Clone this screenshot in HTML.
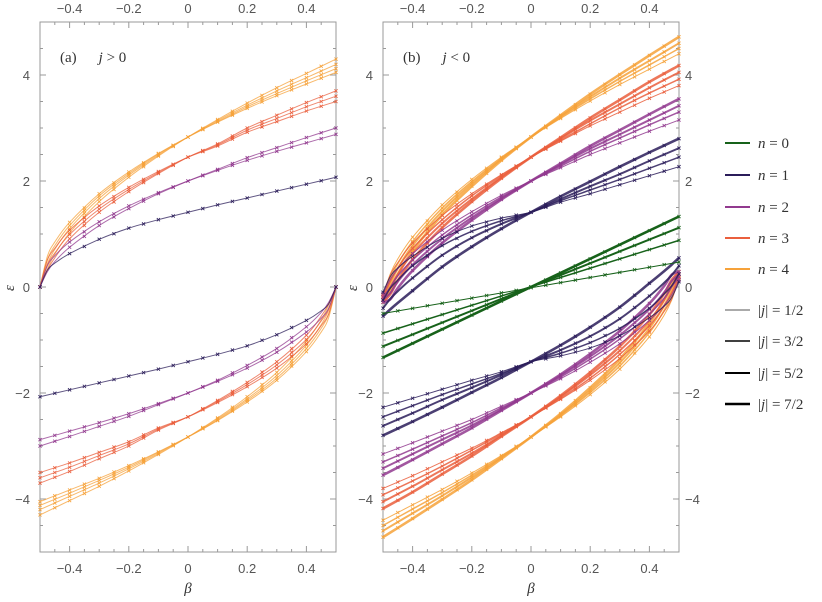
<!DOCTYPE html>
<html><head><meta charset="utf-8"><style>
body{margin:0;background:#fff;}
svg{display:block;}
.tk{font-family:"Liberation Sans",sans-serif;font-size:13px;fill:#555;}
.lt{font-family:"Liberation Serif",serif;font-size:15px;fill:#333;}
</style></head><body>
<svg id="chart" width="822" height="602" viewBox="0 0 822 602"></svg>
<script>
// beta sample grid
const betaGrid=[-0.5,-0.475,-0.45,-0.4,-0.3,-0.2,-0.1,0,0.1,0.2,0.3,0.4,0.5];
// panel (a) j>0 upper branch values per n and j
const a_n1_j1=[0,.32,.45,.63,.9,1.11,1.27,1.41,1.55,1.68,1.81,1.94,2.07];
const a_n2_j1=[0,.40,.59,.85,1.23,1.53,1.78,2.0,2.20,2.39,2.56,2.72,2.88];
const a_n2_j3=[0,.29,.48,.75,1.16,1.48,1.76,2.0,2.22,2.44,2.63,2.82,3.0];
const a_n3_j1=[0,.51,.73,1.07,1.53,1.88,2.18,2.45,2.66,2.92,3.12,3.32,3.50];
const a_n3_j3=[0,.42,.64,.99,1.47,1.84,2.16,2.45,2.68,2.96,3.18,3.40,3.60];
const a_n3_j5=[0,.32,.55,.91,1.41,1.80,2.14,2.45,2.70,3.00,3.24,3.48,3.70];
const a_n4_j1=[0,.58,.85,1.22,1.76,2.17,2.52,2.83,3.11,3.37,3.61,3.83,4.05];
const a_n4_j3=[0,.52,.78,1.16,1.72,2.14,2.51,2.83,3.12,3.40,3.65,3.89,4.12];
const a_n4_j5=[0,.44,.71,1.10,1.67,2.11,2.49,2.83,3.14,3.43,3.70,3.95,4.20];
const a_n4_j7=[0,.34,.62,1.02,1.61,2.07,2.47,2.83,3.16,3.47,3.76,4.03,4.30];
// panel (b) j<0 upper branch values
const b_n1_j1=[-.10,.20,.36,.58,.92,1.15,1.30,1.41,1.60,1.76,1.93,2.10,2.27];
const b_n1_j3=[-.25,-.02,.13,.40,.78,1.05,1.25,1.41,1.63,1.83,2.03,2.24,2.45];
const b_n1_j5=[-.40,-.22,-.08,.17,.60,.93,1.19,1.41,1.66,1.90,2.13,2.38,2.62];
const b_n1_j7=[-.55,-.42,-.30,-.07,.38,.76,1.10,1.41,1.71,1.99,2.27,2.54,2.80];
const b_n2_j1=[-.13,.15,.34,.63,1.07,1.42,1.73,2.0,2.25,2.50,2.72,2.94,3.15];
const b_n2_j3=[-.19,.0,.21,.51,.98,1.36,1.70,2.0,2.28,2.56,2.81,3.06,3.30];
const b_n2_j5=[-.24,-.11,.10,.42,.91,1.31,1.67,2.0,2.31,2.61,2.88,3.15,3.42];
const b_n2_j7=[-.29,-.23,-.02,.31,.83,1.26,1.65,2.0,2.33,2.66,2.96,3.26,3.55];
const b_n3_j1=[-.14,.23,.46,.83,1.35,1.76,2.12,2.45,2.75,3.04,3.30,3.56,3.80];
const b_n3_j3=[-.18,.11,.36,.73,1.27,1.72,2.10,2.45,2.77,3.08,3.38,3.66,3.92];
const b_n3_j5=[-.24,-.01,.24,.63,1.20,1.66,2.07,2.45,2.80,3.14,3.45,3.76,4.05];
const b_n3_j7=[-.29,-.13,.12,.52,1.12,1.61,2.05,2.45,2.82,3.19,3.53,3.87,4.18];
const b_n4_j1=[-.16,.25,.53,.94,1.55,2.03,2.45,2.83,3.18,3.51,3.82,4.11,4.40];
const b_n4_j3=[-.2,.16,.44,.86,1.49,1.99,2.43,2.83,3.20,3.55,3.88,4.19,4.50];
const b_n4_j5=[-.24,.06,.35,.78,1.43,1.95,2.41,2.83,3.22,3.59,3.94,4.27,4.60];
const b_n4_j7=[-.29,-.05,.24,.68,1.36,1.90,2.39,2.83,3.24,3.64,4.01,4.37,4.72];
// n=0 straight lines: values at beta=-0.5 and beta=0.5
const greenBeta=[-0.5,0.5];
const b_n0_j1=[-0.50,0.47];
const b_n0_j3=[-0.87,0.88];
const b_n0_j5=[-1.12,1.12];
const b_n0_j7=[-1.33,1.33];
const xTicks=[-0.4,-0.2,0,0.2,0.4];
const xTickLabels=["\u22120.4","\u22120.2","0","0.2","0.4"];
const yTicks=[-4,-2,0,2,4];
const yTickLabels=["\u22124","\u22122","0","2","4"];

const NS="http://www.w3.org/2000/svg";
const svg=document.getElementById('chart');
function mk(t,at,par){const e=document.createElementNS(NS,t);for(const k in at)e.setAttribute(k,at[k]);(par||svg).appendChild(e);return e;}
const Y0=287,SY=53,TOP=22,BOT=552,W=296;
function yS(v){return Y0-v*SY;}
function xS(x0){return b=>x0+(b+0.5)*W;}
const cols={0:'#17621a',1:'#2b1d5a',2:'#923a8f',3:'#ea5f3d',4:'#f6a23a'};
const widths={1:1,3:1.5,5:2,7:2.6};

function smooth(pts){
  let d='M'+pts[0][0].toFixed(2)+','+pts[0][1].toFixed(2);
  for(let i=0;i<pts.length-1;i++){
    const p0=pts[i-1]||pts[i],p1=pts[i],p2=pts[i+1],p3=pts[i+2]||p2;
    const c1=[p1[0]+(p2[0]-p0[0])/6,p1[1]+(p2[1]-p0[1])/6];
    const c2=[p2[0]-(p3[0]-p1[0])/6,p2[1]-(p3[1]-p1[1])/6];
    d+='C'+c1.map(v=>v.toFixed(2))+' '+c2.map(v=>v.toFixed(2))+' '+p2[0].toFixed(2)+','+p2[1].toFixed(2);
  }
  return d;
}
function cross(g,x,y,c){
  const p=mk('path',{d:`M${x-1.6},${y-1.6}L${x+1.6},${y+1.6}M${x-1.6},${y+1.6}L${x+1.6},${y-1.6}`,stroke:c,'stroke-width':0.8,fill:'none'},g);
  
  
}
function curve(g,X,bs,vs,n,j,op,name){
  const c=cols[n];
  const pts=bs.map((b,i)=>[X(b),yS(vs[i])]);
  const p=mk('path',{d:smooth(pts),stroke:c,'stroke-width':widths[j],fill:'none','stroke-opacity':op},g);
  
  
  for(let k=0;k<bs.length;k++){
    if(Math.abs(bs[k])>=0.449 && Math.abs(bs[k])<=0.451) continue;
    if(Math.abs(bs[k])>=0.474 && Math.abs(bs[k])<=0.476) continue;
    cross(g,pts[k][0],pts[k][1],c);
    if(k<bs.length-1 && Math.abs(bs[k+1]-bs[k])>0.09){
      cross(g,(pts[k][0]+pts[k+1][0])/2,(pts[k][1]+pts[k+1][1])/2,c);
    }
  }
}
function mirror(vs){return vs.slice().reverse().map(v=>-v);}
function mirrorB(bs){return bs.slice().reverse().map(b=>-b);}

function axes(x0,leftLabels,rightLabels,name){
  const g=mk('g',{});
  
  
  const X=xS(x0);
  mk('rect',{x:x0,y:TOP,width:W,height:BOT-TOP,fill:'none',stroke:'#999','stroke-width':1},g);
  for(let i=-10;i<=10;i++){
    const b=i*0.05;const x=X(b);const major=(i%4===0);
    const L=major?6:3;
    mk('line',{x1:x,y1:TOP,x2:x,y2:TOP+L,stroke:'#999'},g);
    mk('line',{x1:x,y1:BOT,x2:x,y2:BOT-L,stroke:'#999'},g);
  }
  for(let i=-10;i<=10;i++){
    const v=i*0.5;const y=yS(v);const major=(i%4===0);
    const L=major?6:3;
    mk('line',{x1:x0,y1:y,x2:x0+L,y2:y,stroke:'#999'},g);
    mk('line',{x1:x0+W,y1:y,x2:x0+W-L,y2:y,stroke:'#999'},g);
  }
  xTicks.forEach((b,i)=>{
    const t1=mk('text',{x:X(b),y:13,'text-anchor':'middle',class:'tk'},g);t1.textContent=xTickLabels[i];
    
    
    const t2=mk('text',{x:X(b),y:573,'text-anchor':'middle',class:'tk'},g);t2.textContent=xTickLabels[i];
    
    
  });
  yTicks.forEach((v,i)=>{
    if(leftLabels){const t=mk('text',{x:x0-10,y:yS(v)+5,'text-anchor':'end',class:'tk'},g);t.textContent=yTickLabels[i];
      
      }
    if(rightLabels){const t=mk('text',{x:x0+W+6,y:yS(v)+5,'text-anchor':'start',class:'tk'},g);t.textContent=yTickLabels[i];
      
      }
  });
  const yl=mk('text',{x:x0-30,y:292,'text-anchor':'middle',class:'lt','font-style':'italic',transform:`rotate(-90 ${x0-30} 288)`},g);yl.textContent='ε';
  
  
  const xl=mk('text',{x:x0+W/2,y:593,'text-anchor':'middle',class:'lt','font-style':'italic'},g);xl.textContent='β';
  
  
  return X;
}

// Panel a
const Xa=axes(40,true,false,'panel-a');
const ga=mk('g',{});


const aSeries=[[4,1,a_n4_j1],[4,3,a_n4_j3],[4,5,a_n4_j5],[4,7,a_n4_j7],[3,1,a_n3_j1],[3,3,a_n3_j3],[3,5,a_n3_j5],[2,1,a_n2_j1],[2,3,a_n2_j3],[1,1,a_n1_j1]];
aSeries.forEach(([n,j,vs])=>{
  curve(ga,Xa,betaGrid,vs,n,1,0.75,`curve-a-n${n}-j${j}-upper`);
  curve(ga,Xa,mirrorB(betaGrid),mirror(vs),n,1,0.75,`curve-a-n${n}-j${j}-lower`);
});
const la=mk('text',{x:60,y:62,class:'lt'});la.innerHTML='(a)<tspan dx="22" font-style="italic">j</tspan> &gt; 0';



// Panel b
const Xb=axes(383,true,true,'panel-b');
const gb=mk('g',{});


const bSeries=[[4,1,b_n4_j1],[4,3,b_n4_j3],[4,5,b_n4_j5],[4,7,b_n4_j7],[3,1,b_n3_j1],[3,3,b_n3_j3],[3,5,b_n3_j5],[3,7,b_n3_j7],[2,1,b_n2_j1],[2,3,b_n2_j3],[2,5,b_n2_j5],[2,7,b_n2_j7],[1,1,b_n1_j1],[1,3,b_n1_j3],[1,5,b_n1_j5],[1,7,b_n1_j7]];
bSeries.forEach(([n,j,vs])=>{
  curve(gb,Xb,betaGrid,vs,n,j,0.85,`curve-b-n${n}-j${j}-upper`);
  curve(gb,Xb,mirrorB(betaGrid),mirror(vs),n,j,0.85,`curve-b-n${n}-j${j}-lower`);
});
[[1,b_n0_j1],[3,b_n0_j3],[5,b_n0_j5],[7,b_n0_j7]].forEach(([j,vs])=>{
  const l=mk('line',{x1:Xb(greenBeta[0]),y1:yS(vs[0]),x2:Xb(greenBeta[1]),y2:yS(vs[1]),stroke:cols[0],'stroke-width':widths[j]},gb);
  
  
  for(let i=0;i<=20;i++){
    const t=i/20;const b=greenBeta[0]+t*(greenBeta[1]-greenBeta[0]);const v=vs[0]+t*(vs[1]-vs[0]);
    cross(gb,Xb(b),yS(v),cols[0]);
  }
});
const lb=mk('text',{x:403,y:62,class:'lt'});lb.innerHTML='(b)<tspan dx="22" font-style="italic">j</tspan> &lt; 0';



// Legend
const lg=mk('g',{});


const legN=[0,1,2,3,4];const legNy=[143,175,207,238,269];
legN.forEach((n,i)=>{
  const e=mk('g',{},lg);
  
  
  mk('line',{x1:725,y1:legNy[i],x2:750,y2:legNy[i],stroke:cols[n],'stroke-width':2},e);
  const t=mk('text',{x:758,y:legNy[i]+5,class:'lt'},e);t.innerHTML='<tspan font-style="italic">n</tspan> = '+n;
});
const legJ=[1,3,5,7];const legJy=[310,341,373,404];
legJ.forEach((j,i)=>{
  const e=mk('g',{},lg);
  
  
  mk('line',{x1:725,y1:legJy[i],x2:750,y2:legJy[i],stroke:j==1?'#555':'#000','stroke-width':widths[j]},e);
  const t=mk('text',{x:758,y:legJy[i]+5,class:'lt'},e);t.innerHTML='|<tspan font-style="italic">j</tspan>| = '+j+'/2';
});
</script>
</body></html>
